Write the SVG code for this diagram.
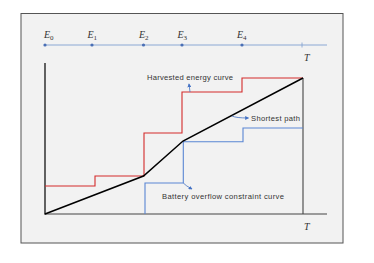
<svg xmlns="http://www.w3.org/2000/svg" width="374" height="263" viewBox="0 0 374 263">
<style>
.lbl{font-family:"Liberation Sans",Arial,sans-serif;font-size:7.6px;fill:#333}
.math{font-family:"Liberation Serif","Times New Roman",serif;font-style:italic;font-size:10px;fill:#333}
.sub{font-family:"Liberation Serif","Times New Roman",serif;font-style:normal;font-size:7px;fill:#333}
.ann{fill:none;stroke:#4472c4;stroke-width:0.8}
</style>
<defs>
<marker id="ah" viewBox="0 0 6 6" refX="5" refY="3" markerWidth="5" markerHeight="5" orient="auto"><path d="M0,0 L6,3 L0,6 z" fill="#4472c4"/></marker>
</defs>
<rect x="0" y="0" width="374" height="263" fill="#fff"/>
<rect id="frame" x="21" y="13.5" width="322" height="229.5" fill="#f2f2f2" stroke="#555" stroke-width="1"/>
<g id="timeline">
<line x1="45" y1="45" x2="327" y2="45" stroke="#7f9fd0" stroke-width="0.9"/>
<line x1="302" y1="42.5" x2="302" y2="47.5" stroke="#7f9fd0" stroke-width="0.8"/>
<g fill="#4a6fb5"><circle cx="45" cy="45" r="1.6"/><circle cx="92" cy="45" r="1.6"/><circle cx="143.5" cy="45" r="1.6"/><circle cx="182" cy="45" r="1.6"/><circle cx="242" cy="45" r="1.6"/></g>
<text class="math" x="44" y="37.5">E<tspan class="sub" dy="2">0</tspan></text>
<text class="math" x="87.5" y="37.5">E<tspan class="sub" dy="2">1</tspan></text>
<text class="math" x="139" y="37.5">E<tspan class="sub" dy="2">2</tspan></text>
<text class="math" x="177.5" y="37.5">E<tspan class="sub" dy="2">3</tspan></text>
<text class="math" x="237" y="37.5">E<tspan class="sub" dy="2">4</tspan></text>
<text class="math" x="304" y="61">T</text>
</g>
<g id="axes">
<line x1="45" y1="63" x2="45" y2="214.5" stroke="#000" stroke-width="1.2"/>
<line x1="44.5" y1="214" x2="327" y2="214" stroke="#444" stroke-width="1.2"/>
<line x1="303" y1="78" x2="303" y2="214" stroke="#444" stroke-width="1.1"/>
<text class="math" x="304" y="230">T</text>
</g>
<g id="connectors">
<polyline id="harvested" points="45,186 95,186 95,176 144,176 144,133 182,133 182,92 242,92 242,78 303,78" fill="none" stroke="#d42a2a" stroke-width="1.1"/>
<polyline id="overflow" points="145,214 145,183 183.3,183 183.3,141.7 243,141.7 243,128 303,128" fill="none" stroke="#5a86d4" stroke-width="1.1"/>
<polyline id="shortest" points="45,214 143.5,176 183,141 303,78" fill="none" stroke="#000" stroke-width="1.5"/>
<path class="ann" d="M190,92 Q189.5,88 189,84" marker-end="url(#ah)"/>
<path class="ann" d="M232,116 Q236,118 248.5,118" marker-end="url(#ah)"/>
<path class="ann" d="M183.3,183 Q186,186 192,189" marker-end="url(#ah)"/>
</g>
<g id="labels">
<text class="lbl" x="147" y="80" textLength="86">Harvested energy curve</text>
<text class="lbl" x="251" y="121" textLength="49">Shortest path</text>
<text class="lbl" x="162" y="199" textLength="122">Battery overflow constraint curve</text>
</g>
</svg>
